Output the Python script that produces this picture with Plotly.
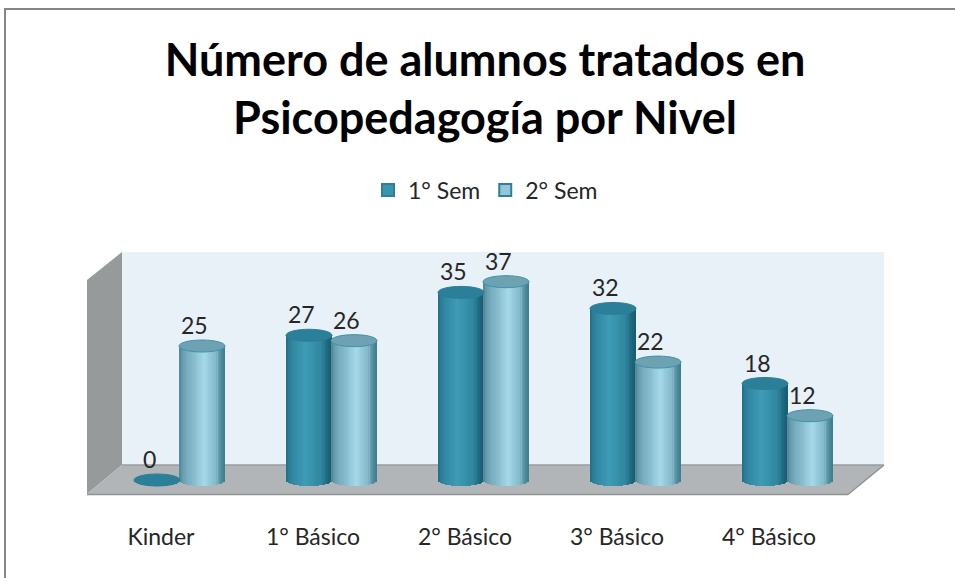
import math
import plotly.graph_objects as go

# ---- data
categories = ["Kinder", "1° Básico", "2° Básico", "3° Básico", "4° Básico"]
sem1 = [0, 27, 35, 32, 18]
sem2 = [25, 26, 37, 22, 12]
series_names = ["1° Sem", "2° Sem"]
title_text = "Número de alumnos tratados en<br>Psicopedagogía por Nivel"

# ---- geometry
W, H = 955, 578
L, R, T, B = 87, 884, 252, 494
FONT = "Lato"
px_per_cat = 152.0
px_per_val = 5.36
x0_px, y0_px = 161.0, 480.0
xr = [(L - x0_px) / px_per_cat, (R - x0_px) / px_per_cat]
yr = [(y0_px - B) / px_per_val, (y0_px - T) / px_per_val]
cyl_w = 46 / px_per_cat
offs = [(157 - 161) / px_per_cat, (202 - 161) / px_per_cat]
ell_h = 6 / px_per_val

def fx(p):
    return (p - L) / (R - L)
def fy(p):
    return (B - p) / (B - T)
def poly(pts):
    return "M" + " L".join(f"{fx(a):.5f},{fy(b):.5f}" for a, b in pts) + " Z"

def lerp(stops, t):
    for (t0, c0), (t1, c1) in zip(stops, stops[1:]):
        if t <= t1:
            f = (t - t0) / (t1 - t0)
            return "rgb(%d,%d,%d)" % tuple(round(a + (b - a) * f) for a, b in zip(c0, c1))
    return "rgb(%d,%d,%d)" % stops[-1][1]

grad1 = [(0, (32, 110, 132)), (0.08, (45, 130, 155)), (0.42, (62, 156, 182)),
         (0.75, (48, 135, 160)), (0.93, (28, 100, 122)), (1, (22, 92, 112))]
grad2 = [(0, (78, 130, 148)), (0.08, (105, 160, 178)), (0.55, (165, 216, 232)),
         (0.8, (130, 185, 203)), (0.93, (80, 135, 152)), (1, (50, 125, 148))]
cap_fill = ["#2c7f98", "#6ea1b1"]
cap_line = ["#2a7f98", "#3b93ad"]
legend_fill = ["#3a94ae", "#93c6da"]
legend_line = ["#2b7f98", "#2b7f98"]

fig = go.Figure()
N = 25
for s, vals in enumerate([sem1, sem2]):
    xs = [i + offs[s] for i in range(len(categories))]
    w = cyl_w / N
    for k in range(N):
        t = (k + 0.5) / N
        drop = ell_h * math.sqrt(max(0, 1 - (2 * t - 1) ** 2))
        fig.add_trace(go.Bar(
            x=xs, y=[v + drop for v in vals], base=-drop,
            width=w * 1.15, offset=-cyl_w / 2 + k * w,
            marker=dict(color=lerp(grad1 if s == 0 else grad2, t), line=dict(width=0)),
            showlegend=False, hoverinfo="skip"))
    fig.add_trace(go.Bar(
        x=[None], y=[None], name=series_names[s],
        marker=dict(color=legend_fill[s], line=dict(color=legend_line[s], width=2))))

shapes = [
    dict(type="line", xref="paper", yref="paper", x0=fx(4.5), x1=fx(955), y0=fy(9), y1=fy(9),
         line=dict(color="#868686", width=2)),
    dict(type="line", xref="paper", yref="paper", x0=fx(5), x1=fx(5), y0=fy(8), y1=fy(578),
         line=dict(color="#868686", width=2)),
    dict(type="path", xref="paper", yref="paper", layer="below",
         path=poly([(122, 252), (884, 252), (884, 465), (122, 465)]),
         fillcolor="#e8f0f8", line=dict(width=0)),
    dict(type="path", xref="paper", yref="paper", layer="below",
         path=poly([(87, 280), (122, 252), (122, 465), (87, 494)]),
         fillcolor="#979a9b", line=dict(width=0)),
    dict(type="path", xref="paper", yref="paper", layer="below",
         path=poly([(122, 465), (884, 465), (848, 494), (87, 494)]),
         fillcolor="#b2b5b8", line=dict(width=0)),
    dict(type="line", xref="paper", yref="paper", layer="below",
         x0=fx(87), x1=fx(848), y0=fy(494.5), y1=fy(494.5), line=dict(color="#8f9295", width=1.5)),
    dict(type="line", xref="paper", yref="paper", layer="below",
         x0=fx(848), x1=fx(884), y0=fy(494.5), y1=fy(465), line=dict(color="#8f9295", width=1.5)),
    dict(type="line", xref="paper", yref="paper", layer="below",
         x0=fx(122), x1=fx(884), y0=fy(465), y1=fy(465), line=dict(color="#9a9da0", width=1.5)),
]
annotations = []
for s, vals in enumerate([sem1, sem2]):
    for i, v in enumerate(vals):
        cx = i + offs[s]
        shapes.append(dict(type="circle", xref="x", yref="y",
                           x0=cx - cyl_w / 2, x1=cx + cyl_w / 2,
                           y0=v - ell_h, y1=v + ell_h,
                           fillcolor=cap_fill[s], line=dict(color=cap_line[s], width=1)))
        annotations.append(dict(x=cx, y=v, xref="x", yref="y", text=str(v), showarrow=False,
                                xshift=-8, yshift=21,
                                font=dict(family=FONT, size=23, color="#262626")))

fig.update_layout(
    width=W, height=H,
    autosize=False,
    margin=dict(l=L, r=W - R, t=T, b=H - B, pad=0),
    paper_bgcolor="white", plot_bgcolor="rgba(0,0,0,0)",
    barmode="overlay", bargap=0,
    title=dict(text=title_text, x=485 / W, xanchor="center", y=1 - 75.5 / H, yanchor="middle",
               font=dict(family=FONT, size=45, color="#000000", weight="bold")),
    legend=dict(orientation="h", x=fx(368), xanchor="left", y=fy(190), yanchor="middle",
                font=dict(family=FONT, size=23, color="#262626"),
                bgcolor="rgba(0,0,0,0)", traceorder="normal", itemwidth=30),
    xaxis=dict(range=xr, tickmode="array", tickvals=list(range(len(categories))),
               ticktext=categories, showgrid=False, zeroline=False, showline=False, ticks="",
               ticklabelstandoff=27, tickfont=dict(family=FONT, size=23, color="#262626")),
    yaxis=dict(range=yr, visible=False, showgrid=False, zeroline=False),
    shapes=shapes, annotations=annotations,
)
fig.write_html("out.html", config={"displayModeBar": False},
               post_script="document.body.style.margin='0';document.body.style.overflow='hidden';")
